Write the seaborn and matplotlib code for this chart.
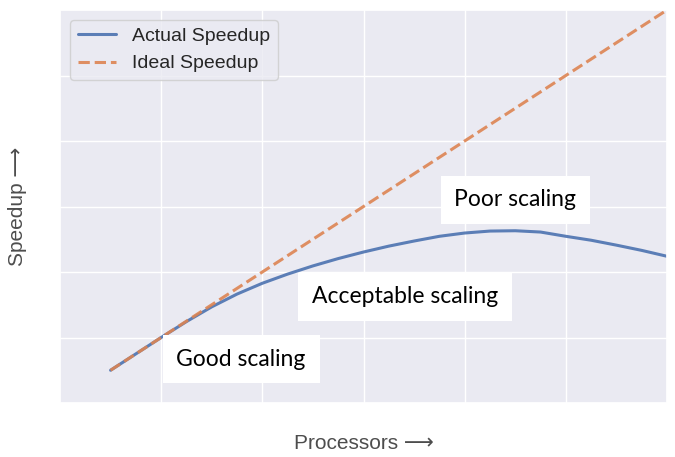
import numpy as np
import pandas as pd
import matplotlib
matplotlib.use("Agg")
import matplotlib.pyplot as plt
import seaborn as sns

# ---------------------------
# datos
# ---------------------------
processors = [5, 7.5, 10, 12.5, 15, 17.5, 20, 22.5, 25, 27.5, 30, 32.5,
              35, 37.5, 40, 42.5, 45, 47.5, 50, 52.5, 55, 57.5, 60]
actual_speedup = [5.0, 7.5, 10.0, 12.43, 14.68, 16.63, 18.28, 19.68, 20.93, 22.05, 23.05, 23.95,
                  24.73, 25.45, 25.95, 26.25, 26.3, 26.1, 25.45, 24.85, 24.1, 23.3, 22.4]
ideal_x = [5, 60]
ideal_speedup = [5, 60]

labels = ["Good scaling", "Acceptable scaling", "Poor scaling"]
label_x = [17.9, 34.1, 45.0]
label_y = [6.7, 16.2, 31.0]

sns.set_theme(style="darkgrid")
plt.rcParams['font.family'] = ['Liberation Sans', 'DejaVu Sans']

df_actual = pd.DataFrame({'x': processors, 'y': actual_speedup})
df_ideal = pd.DataFrame({'x': ideal_x, 'y': ideal_speedup})

fig = plt.figure(figsize=(6.75, 4.57), dpi=100)
ax = fig.add_axes([60 / 675, 1 - 403 / 457, 607 / 675, 393 / 457])

pal = sns.color_palette("deep")
sns.lineplot(data=df_actual, x='x', y='y', ax=ax, color=pal[0], lw=2.2, alpha=0.9, label='Actual Speedup')
sns.lineplot(data=df_ideal, x='x', y='y', ax=ax, color=pal[1], lw=2.2, alpha=0.9, ls='--', label='Ideal Speedup')

ax.set_xlim(0, 60)
ax.set_ylim(0, 60)
ax.set_xticks([10, 20, 30, 40, 50])
ax.set_yticks([10, 20, 30, 40, 50])
ax.set_xticklabels([])
ax.set_yticklabels([])
ax.set_xlabel('Processors ⟶', fontsize=15, color='.3', labelpad=13)
ax.set_ylabel('Speedup ⟶', fontsize=15, color='.3', labelpad=14)

for t, x, y in zip(labels, label_x, label_y):
    ax.text(x, y, t, ha='center', va='center', fontsize=16.5, family='Lato', color='black',
            bbox=dict(boxstyle='square,pad=0.6', fc='white', ec='none'))

ax.legend(loc='upper left', fontsize=14, borderaxespad=0.5)

plt.savefig('out.png', dpi=100)
plt.close()
